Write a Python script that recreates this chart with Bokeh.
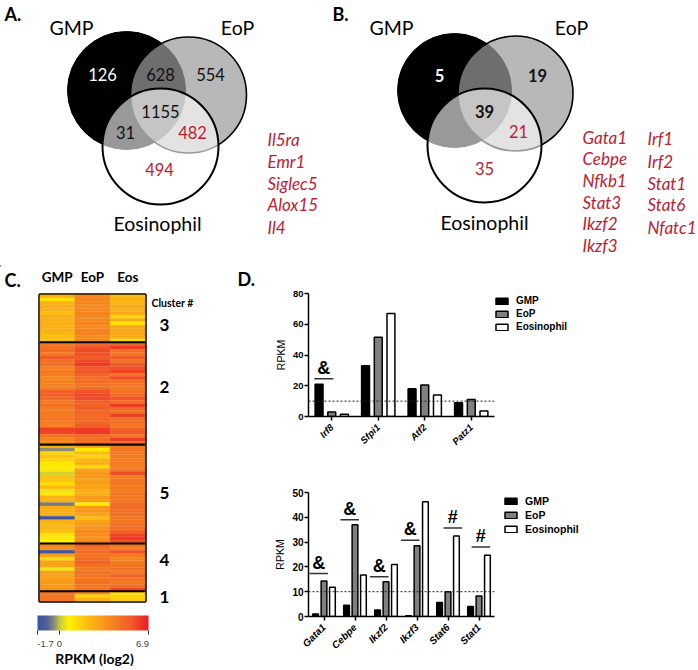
from bokeh.plotting import figure
from bokeh.models import (ColumnDataSource, FactorRange, Range1d, Span, Legend, LegendItem,
                          LinearColorMapper, ColorBar, FixedTicker, Column, Row)
from bokeh.core.properties import value
from bokeh.embed import file_html
from bokeh.resources import INLINE
from bokeh.transform import transform
import math

# ---------- data ----------
venn_a_counts = ["126", "628", "554", "1155", "31", "482", "494"]
venn_b_counts = ["5", "19", "39", "21", "35"]
genes_a = ["Il5ra", "Emr1", "Siglec5", "Alox15", "Il4"]
genes_b1 = ["Gata1", "Cebpe", "Nfkb1", "Stat3", "Ikzf2", "Ikzf3"]
genes_b2 = ["Irf1", "Irf2", "Stat1", "Stat6", "Nfatc1"]

heat_columns = ["GMP", "EoP", "Eos"]
cluster_names = ["3", "2", "5", "4", "1"]
heat_gmp = [
    [2.6,1.2,2.6,2.7,2.6,2.2,2.7,2.7,2.6,2.7,2.7,2.4,2.3,2.1],
    [4.6,4.8,4.9,4.4,5.6,4.8,4.9,4.3,4.4,4.3,4.0,4.1,4.2,4.3,5.3,5.5,5.0,4.5,4.8,4.3,4.5,4.4,4.7,4.3,4.2,6.2,6.0,4.8,4.0,4.0],
    [2.4,-0.4,1.6,2.0,1.7,1.0,0.9,1.0,0.2,2.2,2.0,1.3,2.4,0.5,1.1,2.5,2.6,-0.6,2.7,2.7,2.5,-1.7,2.6,2.3,2.5,2.1,1.2,0.9,0.8],
    [3.9,3.6,-1.5,3.2,1.4,3.0,3.0,0.5,3.0,3.1,3.2,3.3,3.4,3.5],
    [4.7,4.5,4.6],
]
heat_eop = [
    [3.9,4.0,4.0,3.8,4.0,4.1,3.8,4.0,4.1,3.9,4.0,4.1,3.8,3.9],
    [5.2,5.7,5.9,5.8,5.5,6.0,6.2,5.7,5.7,5.2,5.0,4.9,4.7,4.8,5.7,6.0,5.9,5.4,5.3,5.4,5.2,5.0,5.2,5.0,5.5,6.2,6.3,5.0,4.8,5.2],
    [3.0,0.9,2.3,1.5,2.4,2.7,1.4,3.1,3.4,3.4,3.1,3.2,3.0,2.6,2.7,3.3,3.2,0.9,3.3,3.6,3.0,2.3,3.0,3.3,3.6,3.9,3.8,3.5,4.0],
    [5.4,4.7,5.0,4.6,5.0,5.3,4.8,4.5,4.7,4.6,4.5,4.8,4.6,4.7],
    [3.8,1.6,2.6],
]
heat_eos = [
    [2.3,2.6,2.4,2.8,2.6,2.9,1.5,2.8,1.1,3.0,2.8,2.9,2.8,1.4],
    [5.3,6.3,4.8,4.5,5.6,4.6,5.6,5.8,6.1,4.7,5.9,4.8,4.7,4.5,4.6,5.1,5.7,4.9,6.3,5.0,4.8,6.1,4.9,4.7,4.5,5.4,5.5,4.7,6.2,4.9],
    [4.4,4.7,4.4,4.3,4.4,4.4,4.3,4.6,5.9,4.4,4.5,4.5,4.4,4.2,4.6,4.5,4.7,4.9,5.0,4.9,4.8,4.6,4.5,4.7,5.0,5.2,6.1,6.3,5.8],
    [4.6,4.2,5.8,4.5,4.0,4.4,4.6,4.8,4.4,5.4,4.6,4.4,4.8,6.0],
    [1.4,1.5,1.8],
]
scale_ticks = [-1.7, 0, 6.9]
scale_labels = ["-1.7", "0", "6.9"]

series = ["GMP", "EoP", "Eosinophil"]
series_fill = ["black", "#808080", "white"]
top_genes = ["Irf8", "Sfpi1", "Atf2", "Patz1"]
top_gmp = [21, 33, 18, 9]
top_eop = [3, 51.5, 20.5, 11]
top_eos = [1.5, 67, 14, 3.5]
top_sig = [("Irf8", 24.5, "&")]

bot_genes = ["Gata1", "Cebpe", "Ikzf2", "Ikzf3", "Stat6", "Stat1"]
bot_gmp = [1, 4.5, 2.6, 0.3, 5.6, 4]
bot_eop = [14.3, 37, 14, 28.5, 10, 8.3]
bot_eos = [11.8, 16.7, 21, 46.3, 32.5, 24.7]
bot_sig = [("Gata1", 17.3, "&"), ("Cebpe", 39, "&"), ("Ikzf2", 16, "&"),
           ("Ikzf3", 30.7, "&"), ("Stat6", 35.7, "#"), ("Stat1", 28, "#")]
threshold = 10

# ---------- style ----------
RED = "#be2032"
TEXT = "Lato"
ARIAL = "Liberation Sans"

def txt(p, x, y, s, size, color="black", style="normal", align="center", font=TEXT):
    p.text(x=[x], y=[y], text=[s], text_font=value(font), text_font_size=size, text_color=color,
           text_font_style=style, text_align=align, text_baseline="middle")

# ---------- Venn panels ----------
top = figure(width=698, height=265, x_range=Range1d(0, 698), y_range=Range1d(265, 0),
             x_axis_type=None, y_axis_type=None, toolbar_location=None, output_backend="svg",
             min_border=0, outline_line_color=None)
top.grid.visible = False

def venn(p, c1, c2, c3):
    p.circle(x=[c1[0]], y=[c1[1]], radius=c1[2], fill_color="black", line_color="black", line_width=1)
    p.circle(x=[c2[0]], y=[c2[1]], radius=c2[2], fill_color="#9b9b9b", fill_alpha=0.71, line_color="black", line_width=1.6)
    p.circle(x=[c3[0]], y=[c3[1]], radius=c3[2], fill_color="white", fill_alpha=0.6,
             line_color="black", line_width=2)

venn(top, (126, 90, 59), (188, 94.5, 58), (160, 146, 58))
venn(top, (454, 90, 57), (515, 93, 57.5), (484, 145, 57))

txt(top, 4, 13, "A.", "18px", style="bold", align="left")
txt(top, 332, 13, "B.", "18px", style="bold", align="left")
for (x, s) in [(71, "GMP"), (237, "EoP"), (157, "Eosinophil")]:
    txt(top, x, 223 if s == "Eosinophil" else 27, s, "19.5px")
for (x, s) in [(391, "GMP"), (571, "EoP"), (484, "Eosinophil")]:
    txt(top, x, 222 if s == "Eosinophil" else 27, s, "19.5px")

pos_a = [(102, 74, "white"), (160, 74, "#111111"), (210, 74, "#111111"), (160, 111, "#111111"),
         (125, 132, "#111111"), (192, 132, RED), (159, 169, RED)]
for s, (x, y, c) in zip(venn_a_counts, pos_a):
    txt(top, x, y, s, "16.5px", color=c)
pos_b = [(439, 75, "white"), (537, 75, "#111111"), (484, 111, "#111111"), (518, 131, RED), (484, 168, RED)]
for i, (s, (x, y, c)) in enumerate(zip(venn_b_counts, pos_b)):
    txt(top, x, y, s, "16.5px", color=c, style="bold" if i < 3 else "normal")

for s, y in zip(genes_a, [139, 161, 183, 204, 227]):
    txt(top, 267, y, s, "17px", color=RED, style="italic", align="left")
for s, y in zip(genes_b1, [137, 158, 180, 202, 223, 245]):
    txt(top, 582, y, s, "17px", color=RED, style="italic", align="left")
for s, y in zip(genes_b2, [138, 161, 183, 204, 227]):
    txt(top, 647, y, s, "17px", color=RED, style="italic", align="left")

# ---------- Heatmap ----------
def lerp_palette(anchors, n=256):
    def rgb(h):
        return [int(h[i:i+2], 16) for i in (1, 3, 5)]
    out = []
    for i in range(n):
        f = i / (n - 1)
        for (a, ca), (b, cb) in zip(anchors, anchors[1:]):
            if a <= f <= b:
                t = (f - a) / (b - a)
                c = [round(u + (v - u) * t) for u, v in zip(rgb(ca), rgb(cb))]
                out.append("#%02x%02x%02x" % tuple(c))
                break
    return out

palette = lerp_palette([(0, "#3a53a4"), (0.08, "#4f5f98"), (0.15, "#8c8c70"), (0.2, "#c8c840"),
                        (0.28, "#fff200"), (0.5, "#fbb016"), (0.7, "#f47d20"), (0.85, "#f15a29"), (1, "#ed1c24")])
mapper = LinearColorMapper(palette=palette, low=-1.7, high=6.9)

HL, HT, HW, HH = 39, 27, 106, 309   # frame position in its canvas
heat = figure(width=270, height=405, x_range=FactorRange(*heat_columns, range_padding=0),
              y_range=Range1d(90, 0), x_axis_location="above", toolbar_location=None,
              output_backend="svg", min_border_left=HL, min_border_top=HT,
              min_border_right=270 - HL - HW, min_border_bottom=405 - HT - HH,
              outline_line_color="black", outline_line_width=2.5, y_axis_type=None)
heat.grid.visible = False
heat.xaxis.axis_line_color = None
heat.xaxis.major_tick_line_color = None
heat.xaxis.major_label_standoff = 4
heat.xaxis.major_label_text_font = TEXT
heat.xaxis.major_label_text_font_style = "bold"
heat.xaxis.major_label_text_font_size = "13.5px"
heat.xaxis.major_label_text_color = "black"

hx, hy, hv = [], [], []
r = 0
bounds = []
for a, b, c in zip(heat_gmp, heat_eop, heat_eos):
    for i in range(len(a)):
        for name, v in zip(heat_columns, (a[i], b[i], c[i])):
            hx.append(name); hy.append(r + 0.5); hv.append(v)
        r += 1
    bounds.append(r)
heat.rect(x="x", y="y", width=1, height=1, source=ColumnDataSource(dict(x=hx, y=hy, v=hv)),
          fill_color=transform("v", mapper), line_color=transform("v", mapper), line_width=0.3)
for b in bounds[:-1]:
    heat.add_layout(Span(location=b, dimension="width", line_color="black", line_width=2.2))

cb = ColorBar(color_mapper=mapper, ticker=FixedTicker(ticks=scale_ticks),
              major_label_overrides={t: "" for t in scale_ticks},
              location=(-2, -33), width=111, height=15, orientation="horizontal",
              padding=0, margin=0, major_tick_in=0, major_tick_out=4, major_tick_line_color="#333333",
              major_label_text_font_size="9px", bar_line_color=None, background_fill_alpha=0,
              border_line_color=None, label_standoff=4, title=None)
heat.add_layout(cb, "center")

# ---------- Bars ----------
def bars(genes, gmp, eop, eos, sig, width, height, left, right, ftop, fbottom, ymax, step,
         bar_w, sig_off, sig_w, tick_vals, sym_size, tick_size):
    p = figure(width=width, height=height, x_range=FactorRange(*genes, factor_padding=0, range_padding=0),
               y_range=Range1d(0, ymax), toolbar_location=None, output_backend="svg",
               min_border_left=left, min_border_right=right, min_border_top=ftop, min_border_bottom=fbottom,
               outline_line_color=None)
    p.grid.visible = False
    for k, (vals, st) in enumerate(zip((gmp, eop, eos), series_fill)):
        xs = [(g, (k - 1) * step) for g in genes]
        p.vbar(x="x", top="v", width=bar_w, bottom=0, fill_color=st, line_color="black",
               line_width=1.5, source=ColumnDataSource(dict(x=xs, v=vals)))
    p.add_layout(Span(location=threshold, dimension="width", line_color="#222222", line_width=1, line_dash="2 2"))
    for (g, lvl, sym), off in zip(sig, sig_off):
        p.segment(x0=[(g, off - sig_w / 2)], x1=[(g, off + sig_w / 2)], y0=[lvl], y1=[lvl],
                  line_color="#333333", line_width=1.5)
        p.text(x=[(g, off)], y=[lvl], text=[sym], text_font=value(ARIAL), text_font_style="bold",
               text_font_size=sym_size, text_align="center", text_baseline="bottom", y_offset=-1)
    ax = p.xaxis[0]
    ax.major_label_orientation = math.pi / 4
    ax.major_label_text_font = ARIAL
    ax.major_label_text_font_style = "bold italic"
    ax.major_label_text_font_size = tick_size
    ax.major_label_text_color = "black"
    ax.axis_line_width = 1.5
    ax.major_tick_line_width = 1.5
    ax.major_tick_in = 0
    ax.major_tick_out = 4
    ax.major_label_standoff = 5
    ay = p.yaxis[0]
    ay.ticker = FixedTicker(ticks=tick_vals)
    ay.minor_tick_line_color = None
    ay.major_label_text_font = ARIAL
    ay.major_label_text_font_style = "bold"
    ay.major_label_text_font_size = tick_size
    ay.major_label_text_color = "black"
    ay.axis_line_width = 1.5
    ay.major_tick_line_width = 1.5
    ay.major_tick_in = 0
    ay.major_tick_out = 4
    ay.major_label_standoff = 1
    ay.axis_label = "RPKM"
    ay.axis_label_text_font = ARIAL
    ay.axis_label_text_font_style = "normal"
    ay.axis_label_text_font_size = "10.5px"
    ay.axis_label_text_color = "black"
    ay.axis_label_standoff = 3
    return p

bar_top = bars(top_genes, top_gmp, top_eop, top_eos, top_sig, 428, 200, 38, 204, 28, 49, 80,
               0.273, 0.17, [-0.17], 0.41, [0, 20, 40, 60, 80], "18px", "9.5px")
bar_bot = bars(bot_genes, bot_gmp, bot_eop, bot_eos, bot_sig, 428, 205, 38, 199, 27, 54, 50,
               0.272, 0.185, [-0.17, -0.17, -0.22, -0.22, 0.157, 0.06], 0.6, [0, 10, 20, 30, 40, 50], "18px", "10px")

# ---------- text layer over the lower panels ----------
over = figure(width=698, height=405, x_range=Range1d(0, 698), y_range=Range1d(670, 265),
              x_axis_type=None, y_axis_type=None, toolbar_location=None, output_backend="svg",
              min_border=0, outline_line_color=None, background_fill_alpha=0, border_fill_alpha=0,
              margin=(-405, 0, 0, 0))
over.grid.visible = False
txt(over, 4, 279, "C.", "18px", style="bold", align="left")
txt(over, 237, 278, "D.", "18px", style="bold", align="left")
txt(over, 172, 302, "Cluster #", "10.5px", style="bold")
for s, y in zip(cluster_names, [324, 386, 492, 559, 596]):
    txt(over, 164, y, s, "17px", style="bold")
txt(over, 94, 658, "RPKM (log2)", "14px", style="bold")
for s, x in zip(scale_labels, [45, 59, 142]):
    txt(over, x, 643, s, "9.5px", color="#444444", font=ARIAL)

def add_legend(loc, size, gap):
    # swatches are drawn from renderers that sit outside the visible range
    rs = [over.vbar(x=[-500], top=[265], bottom=[265], width=1, fill_color=c, line_color="black", line_width=1.5)
          for c in series_fill]
    over.add_layout(Legend(items=[LegendItem(label=s, renderers=[r_]) for s, r_ in zip(series, rs)],
                 location=loc, glyph_width=15, glyph_height=8, spacing=gap, padding=0, margin=0,
                 border_line_color=None, background_fill_alpha=0, label_text_font=ARIAL,
                 label_text_font_style="bold", label_text_font_size=size, label_height=7,
                 label_standoff=7, label_text_baseline="middle", label_text_color="black"), "center")

add_legend((494, 338), "10px", 2)
add_legend((503, 135), "10.5px", 2)

right = Column(children=[bar_top, bar_bot], spacing=0)
lower = Row(children=[heat, right], spacing=0)
page = Column(children=[top, lower, over], spacing=0, margin=0)

open("out.html", "w").write(file_html(page, INLINE))
